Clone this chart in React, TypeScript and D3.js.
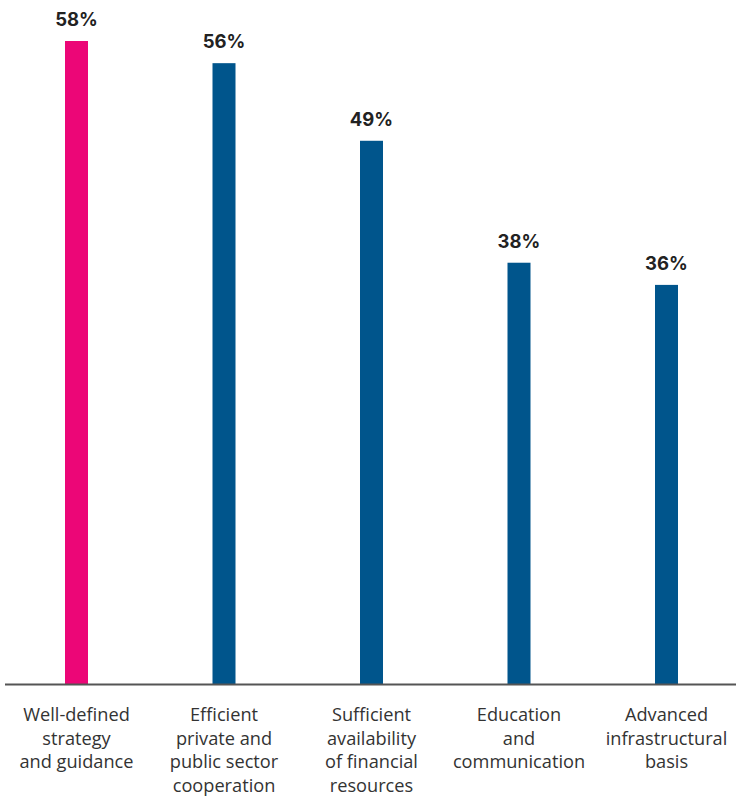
import React from "react";
import * as d3 from "d3";

const categories = [
  ["Well-defined", "strategy", "and guidance"],
  ["Efficient", "private and", "public sector", "cooperation"],
  ["Sufficient", "availability", "of financial", "resources"],
  ["Education", "and", "communication"],
  ["Advanced", "infrastructural", "basis"],
];
const values = [58, 56, 49, 38, 36];
const colors = ["#EC0677", "#00558C", "#00558C", "#00558C", "#00558C"];

const W = 736;
const H = 796;
const baseline = 684;

export default function App() {
  const x = d3
    .scaleBand<number>()
    .domain(d3.range(values.length))
    .range([2.75, 740.25]);
  const y = d3.scaleLinear().domain([0, 58]).range([baseline, 41]);
  const barW = 23;
  return (
    <svg
      width={W}
      height={H}
      style={{ position: "absolute", left: 0, top: 0 }}
    >
      <rect width={W} height={H} fill="#fff" />
      {values.map((v, i) => {
        const cx = (x(i) as number) + x.bandwidth() / 2;
        return (
          <g key={i}>
            <rect
              x={cx - barW / 2}
              y={y(v)}
              width={barW}
              height={baseline - y(v)}
              fill={colors[i]}
            />
            <text
              x={cx}
              y={y(v) - 15}
              textAnchor="middle"
              fontFamily="Inter, 'Open Sans', sans-serif"
              fontWeight={700}
              fontSize={18.5}
              fill="#222"
            >
              {v}%
            </text>
            <text
              x={cx}
              textAnchor="middle"
              fontFamily="'Open Sans', sans-serif"
              fontSize={18.2}
              fill="#333"
            >
              {categories[i].map((line, j) => (
                <tspan key={j} x={cx} y={721 + j * 23.7}>
                  {line}
                </tspan>
              ))}
            </text>
          </g>
        );
      })}
      <line x1={5} x2={736} y1={baseline + 0.5} y2={baseline + 0.5} stroke="#555" strokeWidth={2} />
    </svg>
  );
}
